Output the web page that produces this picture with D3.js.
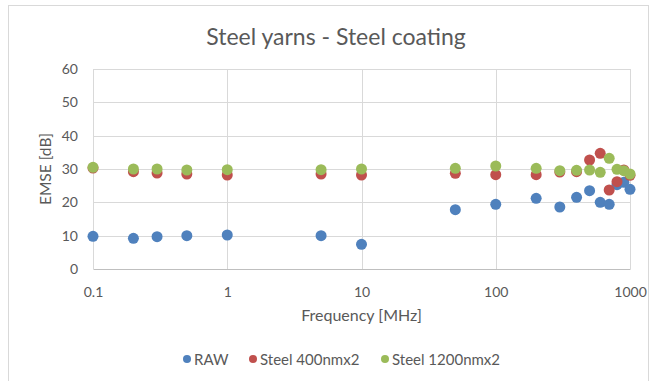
<!DOCTYPE html>
<html>
<head>
<meta charset="utf-8">
<script src="https://cdn.jsdelivr.net/npm/d3@7"></script>
<style>
  body { margin: 0; background: #fff; }
  text { font-family: Lato, "Open Sans", sans-serif; fill: #595959; }
</style>
</head>
<body>
<div id="chart"></div>
<script>
// Data
const frequencies = [0.1, 0.2, 0.3, 0.5, 1, 5, 10, 50, 100, 200, 300, 400, 500, 600, 700, 800, 900, 1000];
const raw = [9.8, 9.2, 9.7, 10.0, 10.2, 10.0, 7.4, 17.8, 19.4, 21.2, 18.6, 21.5, 23.5, 20.0, 19.4, 25.3, 26.0, 23.9];
const steel400 = [30.3, 29.2, 28.8, 28.5, 28.2, 28.5, 28.2, 28.7, 28.3, 28.3, 29.1, 29.2, 32.7, 34.7, 23.7, 26.2, 29.7, 28.1];
const steel1200 = [30.5, 30.0, 30.0, 29.7, 29.8, 29.8, 30.0, 30.2, 30.9, 30.2, 29.5, 29.6, 29.7, 29.0, 33.2, 29.9, 29.5, 28.5];
const seriesNames = ["RAW", "Steel 400nmx2", "Steel 1200nmx2"];
const seriesColors = ["#4F81BD", "#C0504D", "#9BBB59"];
const xTicks = [0.1, 1, 10, 100, 1000];
const yTicks = [0, 10, 20, 30, 40, 50, 60];

const width = 654, height = 381;
const margin = { top: 69, right: 24, bottom: 112, left: 93 };
const innerW = width - margin.left - margin.right;
const innerH = height - margin.top - margin.bottom;

const svg = d3.select("#chart").append("svg")
  .attr("width", width)
  .attr("height", height);

// Chart frame
svg.append("rect")
  .attr("x", 8.5).attr("y", 5.5)
  .attr("width", 640).attr("height", 400)
  .attr("fill", "none")
  .attr("stroke", "#d9d9d9");

const chart = svg.append("g")
  .attr("transform", `translate(${margin.left},${margin.top})`);

const xScale = d3.scaleLog().domain([0.1, 1000]).range([0, innerW]);
const yScale = d3.scaleLinear().domain([0, 60]).range([innerH, 0]);

// Grid
chart.append("g").selectAll("line")
  .data(yTicks.slice(1))
  .join("line")
  .attr("x1", 0).attr("x2", innerW)
  .attr("y1", (d) => Math.round(yScale(d)) + 0.5)
  .attr("y2", (d) => Math.round(yScale(d)) + 0.5)
  .attr("stroke", "#d9d9d9");

chart.append("g").selectAll("line")
  .data(xTicks)
  .join("line")
  .attr("x1", (d) => Math.round(xScale(d)) + 0.5)
  .attr("x2", (d) => Math.round(xScale(d)) + 0.5)
  .attr("y1", 0).attr("y2", innerH)
  .attr("stroke", "#d9d9d9");

// Axes
const xAxis = d3.axisBottom(xScale)
  .tickValues(xTicks)
  .tickFormat((d) => String(d))
  .tickSize(0)
  .tickPadding(18);

chart.append("g")
  .attr("transform", `translate(0,${innerH})`)
  .call(xAxis)
  .call((g) => g.select(".domain").attr("stroke", "#bfbfbf"))
  .selectAll("text")
  .attr("font-size", 14)
  .attr("fill", "#595959");

const yAxis = d3.axisLeft(yScale)
  .tickValues(yTicks)
  .tickSize(0)
  .tickPadding(15);

chart.append("g")
  .call(yAxis)
  .call((g) => g.select(".domain").remove())
  .selectAll("text")
  .attr("font-size", 14)
  .attr("fill", "#595959");

// Titles
svg.append("text")
  .attr("x", 336).attr("y", 45)
  .attr("text-anchor", "middle")
  .attr("font-size", 23)
  .text("Steel yarns - Steel coating");

svg.append("text")
  .attr("x", margin.left + innerW / 2).attr("y", 321)
  .attr("text-anchor", "middle")
  .attr("font-size", 16)
  .text("Frequency [MHz]");

svg.append("text")
  .attr("transform", "rotate(-90)")
  .attr("x", -(margin.top + innerH / 2)).attr("y", 51)
  .attr("text-anchor", "middle")
  .attr("font-size", 15.5)
  .text("EMSE [dB]");

// Points
const allSeries = [raw, steel400, steel1200];
allSeries.forEach((values, i) => {
  chart.append("g").selectAll("circle")
    .data(values.map((v, j) => ({ f: frequencies[j], v })))
    .join("circle")
    .attr("cx", (d) => xScale(d.f))
    .attr("cy", (d) => yScale(d.v))
    .attr("r", 5.5)
    .attr("fill", seriesColors[i]);
});

// Legend
const legendX = [187, 253, 385];
const legend = svg.append("g");
seriesNames.forEach((name, i) => {
  legend.append("circle")
    .attr("cx", legendX[i]).attr("cy", 359)
    .attr("r", 4)
    .attr("fill", seriesColors[i]);
  legend.append("text")
    .attr("x", legendX[i] + 7).attr("y", 364.5)
    .attr("font-size", 15)
    .text(name);
});
</script>
</body>
</html>
